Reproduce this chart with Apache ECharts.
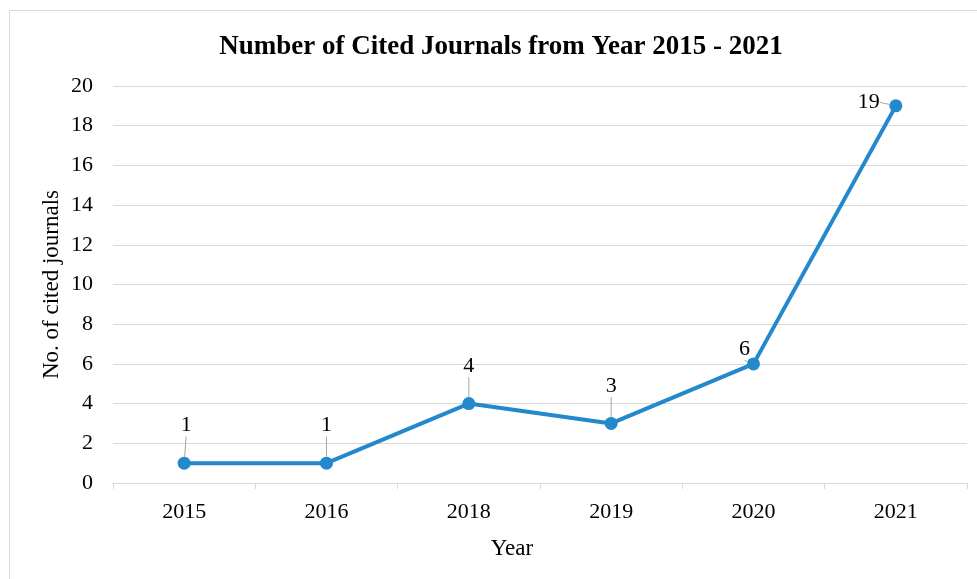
<!DOCTYPE html>
<html>
<head>
<meta charset="utf-8">
<script src="https://cdn.jsdelivr.net/npm/echarts@6/dist/echarts.min.js"></script>
<style>
html,body{margin:0;padding:0;background:#fff;}
#c{width:977px;height:579px;}
</style>
</head>
<body>
<div id="c"></div>
<script>
const years = ['2015', '2016', '2018', '2019', '2020', '2021'];
const citedJournals = [1, 1, 4, 3, 6, 19];
const yTicks = [0, 2, 4, 6, 8, 10, 12, 14, 16, 18, 20];

const labelShift = [[2, -14], [0, -14], [0, -14], [0, -14], [-9, 9], [-27, 20]];

const chart = echarts.init(document.getElementById('c'));
const serif = 'Liberation Serif';
chart.setOption({
  animation: false,
  backgroundColor: '#fff',
  graphic: [{
    type: 'rect',
    shape: { x: 9.5, y: 10.5, width: 980, height: 580 },
    style: { fill: 'none', stroke: '#d9d9d9', lineWidth: 1 },
    silent: true
  }],
  title: {
    text: 'Number of Cited Journals from Year 2015 - 2021',
    left: 496, top: 29, textAlign: 'center',
    textStyle: { fontFamily: serif, fontSize: 27, fontWeight: 'bold', color: '#000' }
  },
  grid: { left: 113, right: 10, top: 86, bottom: 96, containLabel: false },
  xAxis: {
    type: 'category',
    data: years,
    boundaryGap: true,
    name: 'Year',
    nameLocation: 'middle',
    nameGap: 54,
    nameTextStyle: { fontFamily: serif, fontSize: 23, color: '#000', padding: [0, 56, 0, 0] },
    axisLine: { lineStyle: { color: '#d9d9d9', width: 1 } },
    axisTick: { show: true, alignWithLabel: false, length: 6, lineStyle: { color: '#d9d9d9' } },
    axisLabel: { fontFamily: serif, fontSize: 22, color: '#000', margin: 18 }
  },
  yAxis: {
    type: 'value',
    min: yTicks[0], max: yTicks[yTicks.length - 1], interval: 2,
    name: 'No. of cited journals',
    nameLocation: 'middle',
    nameGap: 50,
    nameMoveOverlap: false,
    nameTextStyle: { fontFamily: serif, fontSize: 23, color: '#000' },
    axisLine: { show: false },
    axisTick: { show: false },
    axisLabel: { fontFamily: serif, fontSize: 22, color: '#000', margin: 20 },
    splitLine: { lineStyle: { color: '#d9d9d9', width: 1 } }
  },
  series: [{
    type: 'line',
    data: citedJournals,
    symbol: 'circle',
    symbolSize: 13,
    lineStyle: { color: '#2388cc', width: 4 },
    itemStyle: { color: '#2388cc' },
    label: {
      show: true, position: 'top', distance: 6,
      fontFamily: serif, fontSize: 22, color: '#000'
    },
    labelLine: { show: true, lineStyle: { color: '#a6a6a6', width: 1 } },
    labelLayout: function (p) {
      const s = labelShift[p.dataIndex];
      return { dx: s[0], dy: s[1] };
    }
  }]
});
</script>
</body>
</html>
